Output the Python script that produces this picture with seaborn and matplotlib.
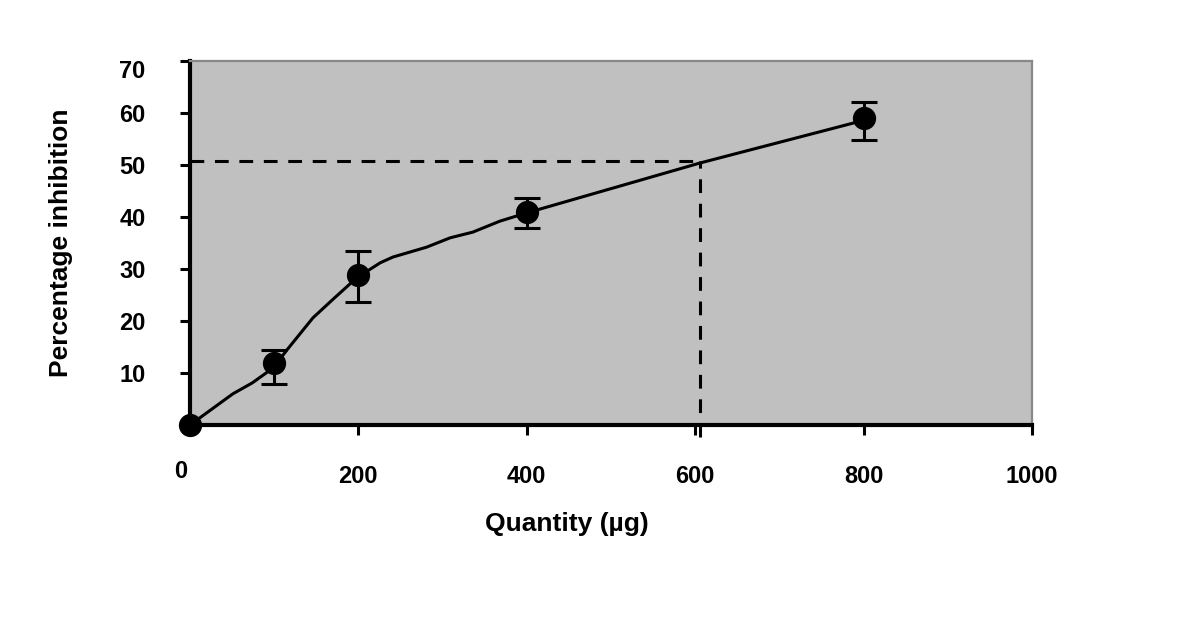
import matplotlib
matplotlib.use('Agg')
import matplotlib.pyplot as plt
import matplotlib.transforms as mtransforms
import seaborn as sns
import pandas as pd

# Mesures (points avec barres d'erreur)
dose = [0, 100, 200, 400, 800]
inhibition = [0, 11.9, 28.8, 41.0, 59.0]
err_lo = [0, 7.9, 23.7, 37.8, 54.9]
err_hi = [0, 14.4, 33.5, 43.6, 62.2]

# Courbe tracée à travers les points
curve_x = [0, 51, 74, 99, 115, 146, 170, 198, 226, 241, 281, 309, 336, 368, 400, 428, 606, 798]
curve_y = [0, 6.0, 8.1, 11.0, 14.4, 20.6, 24.2, 28.3, 31.2, 32.3, 34.2, 36.0, 37.1, 39.2, 40.8, 42.1, 50.4, 58.5]

# IC50
ic50_x = 606
ic50_y = 50.8

x_ticks = [0, 200, 400, 600, 800, 1000]
y_ticks = [0, 10, 20, 30, 40, 50, 60, 70]
y_tick_labels = ['', '10', '20', '30', '40', '50', '60', '70']

sns.set_style("white")
plt.rcParams['font.family'] = ['Liberation Sans', 'DejaVu Sans']
plt.rcParams['font.weight'] = 'bold'
plt.rcParams['text.color'] = 'black'
plt.rcParams['axes.labelcolor'] = 'black'
plt.rcParams['xtick.color'] = 'black'
plt.rcParams['ytick.color'] = 'black'

fig = plt.figure(figsize=(12, 6.37), dpi=100)
ax = fig.add_axes([0.1583, 0.3328, 0.7017, 0.5714])
ax.set_facecolor('#c0c0c0')

df_curve = pd.DataFrame({'x': curve_x, 'y': curve_y})
df_pts = pd.DataFrame({'x': dose, 'y': inhibition})

# lignes pointillées
ax.plot([0, ic50_x], [ic50_y, ic50_y], color='black', lw=2.2, ls=(0, (4.5, 3.5)), zorder=2)
ax.plot([ic50_x, ic50_x], [-2.3, ic50_y], color='black', lw=2.2, ls=(0, (4.5, 3.5)),
        zorder=2, clip_on=False)

sns.lineplot(data=df_curve, x='x', y='y', ax=ax, color='black', lw=2.2, zorder=3)

yerr = [[m - lo for m, lo in zip(inhibition, err_lo)],
        [hi - m for m, hi in zip(inhibition, err_hi)]]
ax.errorbar(dose[1:], inhibition[1:], yerr=[yerr[0][1:], yerr[1][1:]], fmt='none',
            ecolor='black', elinewidth=2.2, capsize=9.5, capthick=2.2, zorder=4)
sns.scatterplot(data=df_pts, x='x', y='y', ax=ax, color='black', s=240,
                edgecolor='black', zorder=5, clip_on=False)

ax.set_xlim(0, 1000)
ax.set_ylim(0, 70)
ax.set_xticks(x_ticks)
ax.set_xticklabels([str(t) for t in x_ticks])
ax.set_yticks(y_ticks)
ax.set_yticklabels(y_tick_labels)

for side in ['top', 'right']:
    ax.spines[side].set_color('#888888')
    ax.spines[side].set_linewidth(1.6)
for side in ['bottom', 'left']:
    ax.spines[side].set_color('black')
    ax.spines[side].set_linewidth(3)

ax.tick_params(axis='both', direction='out', length=7, width=2.2, color='black',
               labelsize=17, labelcolor='black', bottom=True, left=True)
ax.tick_params(axis='x', pad=22)
ax.tick_params(axis='y', pad=25)
for lab in ax.get_xticklabels() + ax.get_yticklabels():
    lab.set_fontweight('bold')

# décalages des étiquettes comme dans l'original
xl = ax.get_xticklabels()
xl[0].set_transform(xl[0].get_transform() +
                    mtransforms.ScaledTranslation(-9 / 100, 5 / 100, fig.dpi_scale_trans))
yl = ax.get_yticklabels()
yl[-1].set_transform(yl[-1].get_transform() +
                     mtransforms.ScaledTranslation(0, -8 / 100, fig.dpi_scale_trans))

ax.set_xlabel('Quantity (µg)', fontsize=19, fontweight='bold', color='black')
ax.set_ylabel('Percentage inhibition', fontsize=19, fontweight='bold', color='black')
ax.xaxis.set_label_coords(0.448, -0.239)
ax.yaxis.set_label_coords(-0.139, 0.5)

fig.savefig('out.png', dpi=100)
